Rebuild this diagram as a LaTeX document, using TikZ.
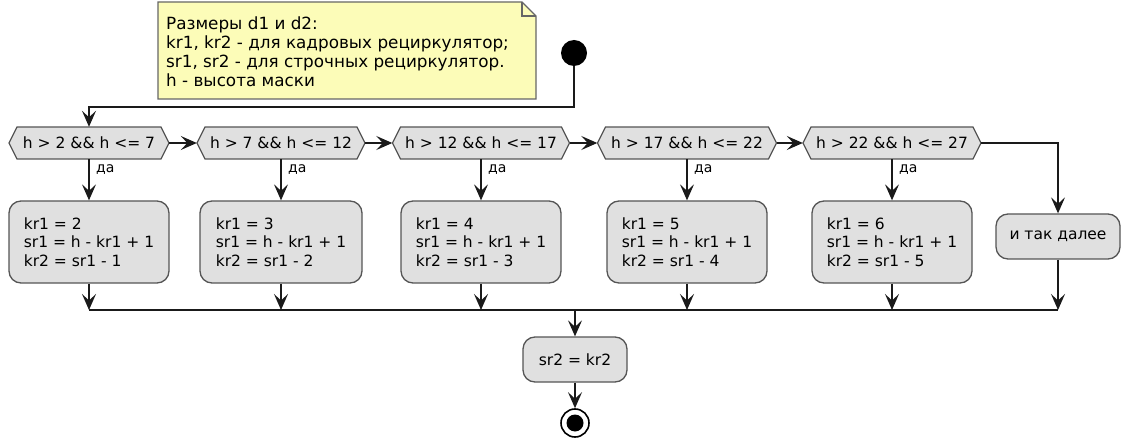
\documentclass[tikz,border=0pt]{standalone}
\usepackage{fontspec}
\setmainfont{DejaVu Sans}
\usetikzlibrary{arrows.meta,calc}
\definecolor{boxfill}{HTML}{E0E0E0}
\definecolor{boxline}{HTML}{555555}
\definecolor{notefill}{HTML}{FCFCB8}
\definecolor{noteline}{HTML}{666666}
\definecolor{flowc}{HTML}{1A1A1A}
\newcommand{\fmain}{\fontsize{15.5}{18.3}\selectfont}
\newcommand{\fnote}{\fontsize{16.8}{19}\selectfont}
\newcommand{\flab}{\fontsize{14}{16}\selectfont}
\newcommand{\hexa}[5]{%
  \draw[hexdraw] ({#2-#4/2},#3) -- ({#2-#4/2+8},{#3-16}) -- ({#2+#4/2-8},{#3-16}) -- ({#2+#4/2},#3) -- ({#2+#4/2-8},{#3+16}) -- ({#2-#4/2+8},{#3+16}) -- cycle;
  \node[hexn, minimum width=#4] (#1) at (#2,#3) {#5};}
\begin{document}
\begin{tikzpicture}[x=1pt,y=-1pt,
  act/.style={draw=boxline, fill=boxfill, rounded corners=12pt, line width=1.3pt, align=left, inner sep=0pt, font=\fmain},
  hexn/.style={draw=none, minimum height=32pt, inner sep=0pt, font=\fmain},
  hexdraw/.style={draw=boxline, fill=boxfill, line width=1.3pt, line join=miter},
  flow/.style={-{Stealth[length=16pt,width=14pt,inset=6.5pt]}, line width=1.4pt, draw=flowc, color=flowc},
  plain/.style={line width=1.4pt, draw=flowc},
  yes/.style={font=\flab, anchor=west, inner sep=1pt}]
\useasboundingbox (0,0) rectangle (1121,438);

% note
\draw[draw=noteline, fill=notefill, line width=1.1pt] (158,2) -- (522,2) -- (536,16) -- (536,99) -- (158,99) -- cycle;
\draw[draw=noteline, line width=1.1pt] (522,2) -- (522,16) -- (536,16);
\node[anchor=west, align=left, font=\fnote, inner sep=0pt] (note) at (166,52) {Размеры d1 и d2:\\kr1, kr2 - для кадровых рециркулятор;\\sr1, sr2 - для строчных рециркулятор.\\h - высота маски};

% start
\node[circle, fill=black, minimum size=26pt, inner sep=0pt] (start) at (574,53) {};

% decisions
\hexa{h1}{89}{143}{160}{h > 2 \&\& h <= 7}
\hexa{h2}{281}{143}{168}{h > 7 \&\& h <= 12}
\hexa{h3}{481}{143}{177}{h > 12 \&\& h <= 17}
\hexa{h4}{687}{143}{179}{h > 17 \&\& h <= 22}
\hexa{h5}{892}{143}{178}{h > 22 \&\& h <= 27}

% actions
\node[act, minimum width=160pt, minimum height=82pt] (b1) at (89,242) {kr1 = 2\\sr1 = h - kr1 + 1\\kr2 = sr1 - 1};
\node[act, minimum width=162pt, minimum height=82pt] (b2) at (281,242) {kr1 = 3\\sr1 = h - kr1 + 1\\kr2 = sr1 - 2};
\node[act, minimum width=160pt, minimum height=82pt] (b3) at (481,242) {kr1 = 4\\sr1 = h - kr1 + 1\\kr2 = sr1 - 3};
\node[act, minimum width=160pt, minimum height=82pt] (b4) at (687,242) {kr1 = 5\\sr1 = h - kr1 + 1\\kr2 = sr1 - 4};
\node[act, minimum width=160pt, minimum height=82pt] (b5) at (892,242) {kr1 = 6\\sr1 = h - kr1 + 1\\kr2 = sr1 - 5};
\node[act, minimum width=124pt, minimum height=45pt] (b6) at (1058,236.5) {и так далее};

\node[act, minimum width=104pt, minimum height=45pt] (fin) at (575,359.5) {sr2 = kr2};
\node[circle, draw=black, line width=1.6pt, minimum size=28pt, inner sep=0pt] (end) at (575,423) {};
\fill[black] (end.center) circle (8.5);

% connectors
\coordinate (topY) at (0,107);
\coordinate (mergeY) at (0,310);
\draw[flow] (start.south) -- (start.south |- topY) -| (h1.north);
\draw[flow] (h1.east) -- (h2.west);
\draw[flow] (h2.east) -- (h3.west);
\draw[flow] (h3.east) -- (h4.west);
\draw[flow] (h4.east) -- (h5.west);
\draw[flow] (h5.east) -| (b6.north);
\foreach \i in {1,...,5}{
  \draw[flow] (h\i.south) -- (b\i.north);
  \node[yes] at ($(h\i.south)+(6,10)$) {да};
}
\foreach \i in {1,...,6}{
  \draw[flow] (b\i.south) -- (b\i.south |- mergeY);
}
\draw[plain] (b1.south |- mergeY) -- (b6.south |- mergeY);
\draw[flow] (fin.north |- mergeY) -- (fin.north);
\draw[flow] (fin.south) -- (end.north);
\end{tikzpicture}
\end{document}
